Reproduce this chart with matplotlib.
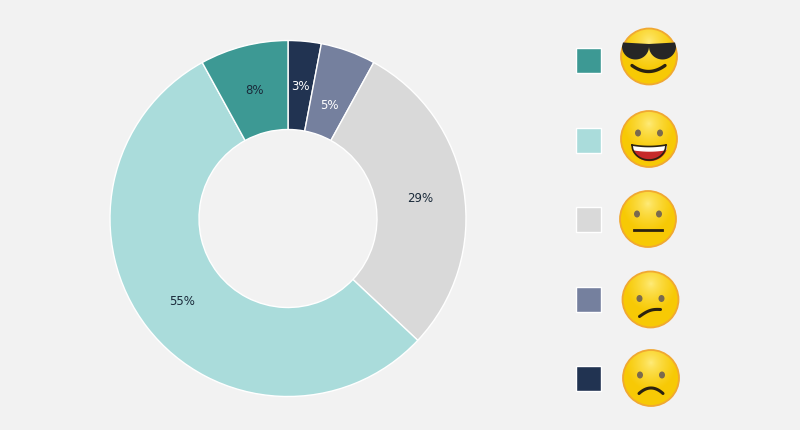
import numpy as np
import matplotlib

matplotlib.use("Agg")
import matplotlib.pyplot as plt
from matplotlib.patches import Circle, Rectangle, Ellipse, Polygon

BG = "#f2f2f2"

# slices, clockwise from 12 o'clock
moods = ["very sad", "unsure", "neutral", "happy", "cool"]
shares = [3, 5, 29, 55, 8]
colors = ["#213351", "#75809e", "#d9d9d9", "#aadcdb", "#3d9994"]
label_colors = ["white", "white", "#1a2a3a", "#1a2a3a", "#1a2a3a"]

# legend order top to bottom
legend_order = ["cool", "happy", "neutral", "unsure", "very sad"]

fig = plt.figure(figsize=(8, 4.31), dpi=100, facecolor=BG)

# ---- donut ------------------------------------------------------------------
cx, cy, R = 288, 219.5, 178
ax = fig.add_axes([(cx - R) / 800, (431 - cy - R) / 431, 2 * R / 800, 2 * R / 431])
ax.set_facecolor(BG)
wedges, texts, autotexts = ax.pie(
    shares,
    colors=colors,
    startangle=90,
    counterclock=False,
    radius=1.0,
    autopct="%d%%",
    pctdistance=0.75,
    wedgeprops=dict(width=0.5, edgecolor="white", linewidth=1),
    textprops=dict(fontsize=8.5, family="DejaVu Sans"),
)
for t, c in zip(autotexts, label_colors):
    t.set_color(c)
# the 5% label sits a bit further in
x0, y0 = autotexts[1].get_position()
autotexts[1].set_position((x0 * 0.91, y0 * 0.91))
ax.set_xlim(-1, 1)
ax.set_ylim(-1, 1)
ax.set_aspect("equal")
ax.axis("off")

# ---- legend with drawn emoji faces -------------------------------------------
lx = fig.add_axes([0, 0, 1, 1], facecolor="none")
lx.set_xlim(0, 800)
lx.set_ylim(431, 0)
lx.axis("off")

rows_y = [61.5, 141, 220, 300, 379]
face_xy = [(649, 57.5), (649, 140), (648, 220), (650.5, 300.5), (651, 379)]
fr = 28

# radial gradient image for the face fill
n = 120
g = np.linspace(-1, 1, n)
X, Y = np.meshgrid(g, g)
d = np.sqrt((X * 1.1) ** 2 + (Y + 0.55) ** 2)
t = np.clip(d / 1.0, 0, 1)[..., None] ** 0.7
light = np.array([1.0, 0.93, 0.50])
dark = np.array([0.97, 0.79, 0.02])
grad = light * (1 - t) + dark * t

eye_c = "#7a6a4f"
line_c = "#2b2210"

for name, y, (fx, fy) in zip(legend_order, rows_y, face_xy):
    col = colors[moods.index(name)]
    lx.add_patch(Rectangle((576, y - 12.5), 25, 25, facecolor=col, edgecolor="white", lw=1))

    clip = Circle((fx, fy), fr, transform=lx.transData)
    im = lx.imshow(grad, extent=(fx - fr, fx + fr, fy + fr, fy - fr), zorder=2, interpolation="bilinear")
    im.set_clip_path(clip)
    lx.add_patch(Circle((fx, fy), fr, facecolor="none", edgecolor="#f0a832", lw=1.3, zorder=3))

    if name == "cool":
        # bar across the top, two lenses with rounded bottoms
        a = np.linspace(0, np.pi, 30)
        right = [(fx + 13.5 + 13.5 * np.cos(s), fy - 10 + 13 * np.sin(s)) for s in a]
        left = [(fx - 13.5 + 13.5 * np.cos(s), fy - 10 + 13 * np.sin(s)) for s in a]
        pts = [(fx - 26, fy - 14), (fx, fy - 12.5), (fx + 26, fy - 14), (fx + 27, fy - 10)]
        pts += right + [(fx, fy - 6)] + left + [(fx - 27, fy - 10)]
        lx.add_patch(Polygon(pts, closed=True, facecolor="#262626", edgecolor="none", zorder=4))
        xs = np.linspace(-17, 16, 40)
        lx.plot(fx + xs, fy + 9 + 6 * (1 - ((xs + 0.5) / 16.5) ** 2), color=line_c,
                lw=2.4, solid_capstyle="round", zorder=4)
    else:
        ey = {"happy": -6, "neutral": -5, "unsure": -1, "very sad": -3}[name]
        for ex in (fx - 11, fx + 11):
            lx.add_patch(Ellipse((ex, fy + ey), 6, 7, facecolor=eye_c, edgecolor="none", zorder=4))
        if name == "happy":
            xs = np.linspace(-17, 17, 60)
            top = fy + 6 + 1.5 * (1 - (xs / 17) ** 2)
            bot = fy + 6 + 15 * np.sqrt(np.clip(1 - (xs / 17) ** 2, 0, 1))
            lx.fill_between(fx + xs, top, bot, color="#c62a2a", zorder=4)
            teeth = np.minimum(top + 4, bot)
            lx.fill_between(fx + xs, top, teeth, color="white", zorder=5)
            lx.plot(fx + xs, top, color=line_c, lw=1.2, zorder=6)
            lx.plot(fx + xs, bot, color=line_c, lw=1.2, zorder=6)
        elif name == "neutral":
            lx.plot([fx - 14, fx + 14], [fy + 11, fy + 11], color=line_c, lw=2, zorder=4)
        elif name == "unsure":
            xs = np.linspace(-11, 10, 40)
            ys = 17 - 7 * (xs + 11) / 21 - 2.5 * np.sin(np.pi * (xs + 11) / 21)
            lx.plot(fx + xs, fy + ys, color=line_c, lw=2.2, solid_capstyle="round", zorder=4)
        else:
            xs = np.linspace(-12, 12, 40)
            lx.plot(fx + xs, fy + 10 + 5.5 * (xs / 12) ** 2, color=line_c, lw=2.2,
                    solid_capstyle="round", zorder=4)

fig.savefig("out.png", facecolor=BG)
